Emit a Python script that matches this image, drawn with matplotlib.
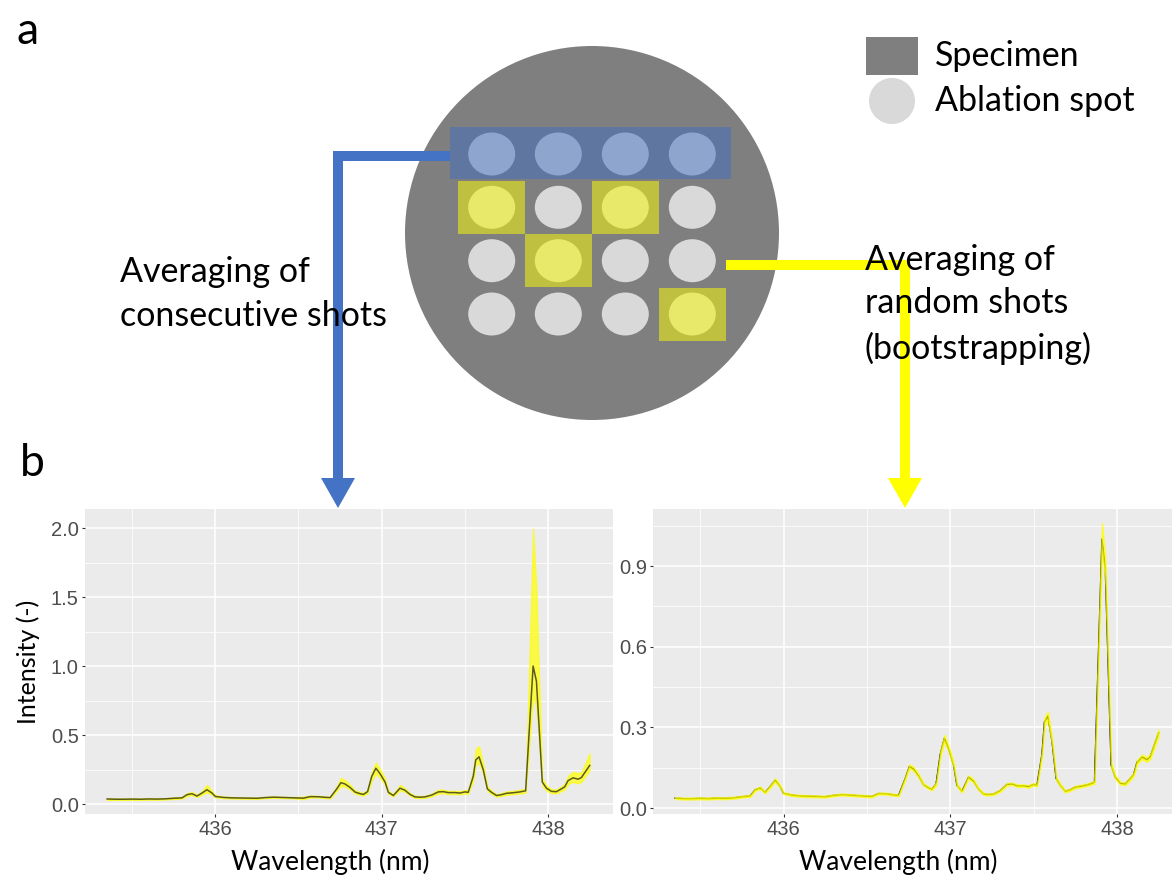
import matplotlib
matplotlib.use("Agg")
import matplotlib.pyplot as plt
from matplotlib.patches import Ellipse, Rectangle, Polygon
from matplotlib.ticker import MultipleLocator

# ---------------- data ----------------
wavelength = [435.35,435.40,435.45,435.50,435.55,435.60,435.65,435.70,435.75,435.80,
              435.83,435.86,435.89,435.92,435.95,435.98,436.00,436.05,436.10,436.15,
              436.20,436.25,436.30,436.35,436.40,436.45,436.50,436.53,436.57,436.62,
              436.66,436.69,436.73,436.755,436.78,436.81,436.84,436.87,436.89,436.915,
              436.94,436.965,436.99,437.02,437.04,437.07,437.11,437.14,437.17,437.20,
              437.23,437.26,437.30,437.34,437.37,437.40,437.44,437.47,437.50,437.52,
              437.55,437.565,437.585,437.61,437.635,437.66,437.69,437.72,437.75,437.79,
              437.83,437.865,437.91,437.93,437.965,437.99,438.02,438.05,438.08,438.10,
              438.12,438.15,438.18,438.20,438.25]

mean_intensity = [0.037,0.035,0.035,0.036,0.035,0.037,0.036,0.038,0.042,0.045,
                  0.068,0.075,0.058,0.080,0.104,0.080,0.055,0.048,0.045,0.044,
                  0.043,0.042,0.047,0.050,0.048,0.046,0.044,0.043,0.054,0.053,
                  0.049,0.047,0.110,0.155,0.145,0.120,0.087,0.075,0.070,0.090,
                  0.200,0.260,0.220,0.160,0.085,0.062,0.115,0.100,0.070,0.052,
                  0.050,0.052,0.065,0.088,0.090,0.083,0.083,0.080,0.088,0.085,
                  0.200,0.320,0.342,0.250,0.110,0.085,0.062,0.068,0.078,0.082,
                  0.088,0.096,1.000,0.890,0.160,0.115,0.092,0.090,0.110,0.125,
                  0.170,0.190,0.180,0.192,0.280]

consec_lower = [0.030,0.030,0.030,0.031,0.030,0.032,0.031,0.033,0.036,0.039,
                0.058,0.065,0.050,0.068,0.085,0.068,0.048,0.042,0.040,0.039,
                0.038,0.037,0.042,0.045,0.043,0.041,0.038,0.035,0.047,0.047,
                0.043,0.041,0.095,0.130,0.125,0.105,0.076,0.065,0.060,0.078,
                0.170,0.220,0.190,0.140,0.074,0.054,0.100,0.088,0.060,0.044,
                0.043,0.045,0.056,0.075,0.078,0.072,0.072,0.070,0.076,0.074,
                0.170,0.280,0.300,0.220,0.095,0.073,0.053,0.058,0.067,0.071,
                0.076,0.082,0.780,0.700,0.135,0.097,0.078,0.077,0.094,0.106,
                0.145,0.160,0.150,0.160,0.245]
consec_upper = [0.044,0.041,0.041,0.042,0.041,0.043,0.042,0.044,0.049,0.052,
                0.080,0.088,0.068,0.095,0.140,0.095,0.064,0.055,0.052,0.050,
                0.049,0.048,0.053,0.056,0.054,0.052,0.052,0.055,0.062,0.060,
                0.056,0.053,0.130,0.190,0.175,0.140,0.100,0.087,0.082,0.105,
                0.235,0.300,0.255,0.185,0.098,0.071,0.140,0.115,0.080,0.061,
                0.058,0.060,0.075,0.105,0.105,0.096,0.096,0.094,0.102,0.100,
                0.240,0.400,0.420,0.290,0.128,0.098,0.072,0.080,0.092,0.096,
                0.104,0.112,2.000,1.550,0.190,0.135,0.108,0.106,0.128,0.150,
                0.205,0.235,0.225,0.230,0.370]

boot_lower = [0.034,0.032,0.032,0.033,0.032,0.034,0.033,0.035,0.039,0.042,
              0.064,0.071,0.055,0.076,0.098,0.076,0.052,0.045,0.042,0.041,
              0.040,0.039,0.044,0.047,0.045,0.043,0.041,0.040,0.051,0.050,
              0.046,0.044,0.104,0.148,0.138,0.114,0.083,0.071,0.066,0.085,
              0.190,0.248,0.210,0.152,0.080,0.058,0.109,0.095,0.066,0.049,
              0.047,0.049,0.061,0.084,0.086,0.079,0.079,0.076,0.084,0.081,
              0.190,0.305,0.328,0.238,0.104,0.081,0.058,0.064,0.074,0.078,
              0.084,0.091,0.960,0.850,0.152,0.109,0.087,0.085,0.104,0.119,
              0.162,0.182,0.172,0.183,0.268]
boot_upper = [0.041,0.039,0.039,0.040,0.039,0.041,0.040,0.042,0.046,0.049,
              0.073,0.080,0.062,0.085,0.111,0.085,0.059,0.052,0.049,0.048,
              0.047,0.046,0.051,0.054,0.052,0.050,0.048,0.047,0.058,0.057,
              0.053,0.051,0.117,0.163,0.153,0.127,0.092,0.080,0.075,0.096,
              0.210,0.272,0.231,0.169,0.091,0.066,0.122,0.106,0.075,0.056,
              0.054,0.056,0.070,0.093,0.095,0.088,0.088,0.085,0.093,0.090,
              0.212,0.336,0.358,0.262,0.117,0.090,0.066,0.072,0.083,0.087,
              0.093,0.102,1.060,0.930,0.169,0.122,0.098,0.095,0.116,0.132,
              0.178,0.199,0.189,0.202,0.293]

left_yticks = [0.0, 0.5, 1.0, 1.5, 2.0]
right_yticks = [0.0, 0.3, 0.6, 0.9]
xticks = [436, 437, 438]

# ---------------- figure ----------------
W, H = 1172, 875
fig = plt.figure(figsize=(W / 100, H / 100), dpi=100)
fig.patch.set_facecolor("white")

TXT_FONT = ["Lato", "DejaVu Sans"]
TICK_FONT = ["Liberation Sans", "DejaVu Sans"]


def px_axes(x0, y0, x1, y1):
    return fig.add_axes([x0 / W, 1 - y1 / H, (x1 - x0) / W, (y1 - y0) / H])


def style_panel(ax, yticks, yminor, ylim):
    ax.set_facecolor("#EBEBEB")
    for s in ax.spines.values():
        s.set_visible(False)
    ax.set_xlim(435.217, 438.39)
    ax.set_ylim(*ylim)
    ax.set_xticks(xticks)
    ax.xaxis.set_minor_locator(MultipleLocator(0.5))
    ax.set_yticks(yticks)
    ax.yaxis.set_minor_locator(MultipleLocator(yminor))
    ax.grid(which="major", color="white", lw=1.1)
    ax.grid(which="minor", color="white", lw=0.55)
    ax.set_axisbelow(True)
    ax.tick_params(which="major", length=2.5, width=0.8, color="#333333",
                   labelcolor="#4D4D4D", labelsize=14.5, pad=2)
    ax.tick_params(which="minor", length=0)


# left panel: wide ribbon with the mean line drawn over it
axL = px_axes(85, 509, 613, 814)
axL.fill_between(wavelength, consec_lower, consec_upper, facecolor="#FFFF00",
                 edgecolor="#FFFF00", alpha=0.7, lw=0.8, zorder=2)
axL.plot(wavelength, mean_intensity, color="#3F3F1A", lw=1.1, alpha=0.85, zorder=3)
style_panel(axL, left_yticks, 0.25, (-0.072, 2.138))
axL.set_yticklabels([f"{v:.1f}" for v in left_yticks], family=TICK_FONT)
axL.set_xticklabels([str(v) for v in xticks], family=TICK_FONT)
axL.set_xlabel("Wavelength (nm)", family=TXT_FONT, fontsize=19)
axL.xaxis.set_label_coords((330 - 85) / 528, -(862 - 814) / 305, transform=axL.transAxes)
axL.xaxis.label.set_va("center")
axL.set_ylabel("Intensity (-)", family=TXT_FONT, fontsize=18)
axL.yaxis.set_label_coords(-(85 - 28) / 528, 0.5, transform=axL.transAxes)
axL.yaxis.label.set_va("center")

# right panel: narrow ribbon covering the mean line (extends past figure edge)
axR = px_axes(653, 509, 1182, 814)
axR.plot(wavelength, mean_intensity, color="black", lw=1.0, zorder=2)
axR.fill_between(wavelength, boot_lower, boot_upper, facecolor="#FFFF00",
                 edgecolor="#FFFF00", alpha=0.7, lw=1.0, zorder=3)
style_panel(axR, right_yticks, 0.15, (-0.022, 1.112))
axR.set_yticklabels([f"{v:.1f}" for v in right_yticks], family=TICK_FONT)
axR.set_xticklabels([str(v) for v in xticks], family=TICK_FONT)
axR.set_xlabel("Wavelength (nm)", family=TXT_FONT, fontsize=19)
axR.xaxis.set_label_coords((898 - 653) / 529, -(862 - 814) / 305, transform=axR.transAxes)
axR.xaxis.label.set_va("center")

# ---------------- schematic overlay ----------------
ov = fig.add_axes([0, 0, 1, 1])
ov.set_xlim(0, W)
ov.set_ylim(H, 0)
ov.axis("off")
ov.patch.set_alpha(0)
ov.set_zorder(10)

blue = "#4472C4"
yellow = "#FFFF00"

# specimen disc
ov.add_patch(Ellipse((592, 233), 374, 374, color="#7F7F7F", lw=0, zorder=1))

# connector lines and arrowheads
ov.add_patch(Rectangle((333, 151), 120, 10, color=blue, lw=0, zorder=2))
ov.add_patch(Rectangle((333, 151), 10, 330, color=blue, lw=0, zorder=2))
ov.add_patch(Polygon([(321, 478), (355, 478), (338, 508)], closed=True, color=blue, lw=0, zorder=2))
ov.add_patch(Rectangle((726, 260), 184, 10, color=yellow, lw=0, zorder=2))
ov.add_patch(Rectangle((900, 260), 10, 221, color=yellow, lw=0, zorder=2))
ov.add_patch(Polygon([(888, 478), (922, 478), (905, 508)], closed=True, color=yellow, lw=0, zorder=2))

col_x = [491.7, 558.3, 625.3, 692.3]
row_y = [154, 207.3, 260.7, 314]
# consecutive-shot band
ov.add_patch(Rectangle((450, 127.3), 280.7, 52, color="#5F76A0", lw=0, zorder=3))
# random shots squares (col, row)
random_cells = [(0, 1), (2, 1), (1, 2), (3, 3)]
for c, r in random_cells:
    ov.add_patch(Rectangle((col_x[c] - 33.3, row_y[r] - 26.5), 66.5, 53,
                           color="#BFBF40", lw=0, zorder=3))
for r, yy in enumerate(row_y):
    for c, xx in enumerate(col_x):
        if r == 0:
            fc = "#8EA6CE"
        elif (c, r) in random_cells:
            fc = "#E8E86A"
        else:
            fc = "#D9D9D9"
        ov.add_patch(Ellipse((xx, yy), 47, 43, color=fc, lw=0, zorder=4))

# legend
ov.add_patch(Rectangle((866, 37), 52, 38, color="#7F7F7F", lw=0))
ov.add_patch(Ellipse((892, 101), 46, 46, color="#D9D9D9", lw=0))
FS = 24.5
ov.text(935, 56, "Specimen", family=TXT_FONT, fontsize=FS, va="center", ha="left", zorder=6)
ov.text(935, 101, "Ablation spot", family=TXT_FONT, fontsize=FS, va="center", ha="left", zorder=6)

# annotations
ov.text(120, 272, "Averaging of", family=TXT_FONT, fontsize=FS, va="center", ha="left", zorder=6)
ov.text(120, 316, "consecutive shots", family=TXT_FONT, fontsize=FS, va="center", ha="left", zorder=6)
ov.text(865, 260, "Averaging of", family=TXT_FONT, fontsize=FS, va="center", ha="left", zorder=6)
ov.text(865, 303, "random shots", family=TXT_FONT, fontsize=FS, va="center", ha="left", zorder=6)
ov.text(865, 348, "(bootstrapping)", family=TXT_FONT, fontsize=FS, va="center", ha="left", zorder=6)

# panel letters
ov.text(16, 32, "a", family=TXT_FONT, fontsize=32, va="center", ha="left")
ov.text(20, 463, "b", family=TXT_FONT, fontsize=32, va="center", ha="left")

fig.savefig("out.png", dpi=100)
